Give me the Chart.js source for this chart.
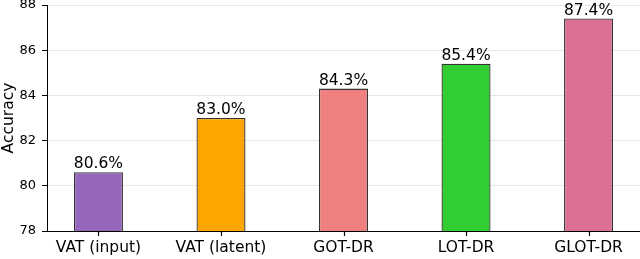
<!DOCTYPE html>
<html>
<head>
<meta charset="utf-8">
<script src="https://cdn.jsdelivr.net/npm/chart.js@4/dist/chart.umd.min.js"></script>
<style>
html,body{margin:0;padding:0;background:#fff;}
#wrap{width:640px;height:259px;}
</style>
</head>
<body>
<div id="wrap"><canvas id="c" width="640" height="259"></canvas></div>
<script>
const categories = ["VAT (input)", "VAT (latent)", "GOT-DR", "LOT-DR", "GLOT-DR"];
const accuracy = [80.6, 83.0, 84.3, 85.4, 87.4];
const barColors = ["#9467bd", "#ffa500", "#f08080", "#32cd32", "#db7093"];
const yTicks = [78, 80, 82, 84, 86, 88];

const FONT = "'DejaVu Sans', sans-serif";

const valueLabels = {
  id: 'valueLabels',
  afterDatasetsDraw(chart) {
    const ctx = chart.ctx;
    const meta = chart.getDatasetMeta(0);
    ctx.save();
    ctx.font = "15.5px " + FONT;
    ctx.fillStyle = "#000";
    ctx.textAlign = "center";
    ctx.textBaseline = "alphabetic";
    meta.data.forEach((el, i) => {
      ctx.fillText(accuracy[i].toFixed(1) + "%", el.x, el.y - 4);
    });
    ctx.restore();
  },
  afterDraw(chart) {
    const ctx = chart.ctx;
    const xs = chart.scales.x;
    const bottom = Math.round(xs.top);
    ctx.save();
    ctx.strokeStyle = "#000";
    ctx.lineWidth = 1.2;
    categories.forEach((c, i) => {
      const px = Math.round(xs.getPixelForValue(i)) + 0.5;
      ctx.beginPath();
      ctx.moveTo(px, bottom);
      ctx.lineTo(px, bottom + 5);
      ctx.stroke();
    });
    ctx.restore();
  }
};

new Chart(document.getElementById('c'), {
  type: 'bar',
  data: {
    datasets: [{
      data: categories.map((c, i) => ({x: i, y: accuracy[i]})),
      backgroundColor: barColors,
      borderColor: "#333333",
      borderWidth: 1.3,
      borderSkipped: false,
      barPercentage: 0.4,
      categoryPercentage: 1.0
    }]
  },
  options: {
    responsive: false,
    animation: false,
    devicePixelRatio: 1,
    layout: {padding: {left: 0, right: 0, top: 5, bottom: 0}},
    plugins: {legend: {display: false}, tooltip: {enabled: false}},
    scales: {
      x: {
        type: 'linear',
        offset: false,
        min: -0.42,
        max: 4.42,
        afterBuildTicks(scale) { scale.ticks = categories.map((c, i) => ({value: i})); },
        afterFit(scale) { scale.height = 28; scale.paddingLeft = 0; scale.paddingRight = 0; },
        ticks: {
          callback: (v) => categories[v],
          font: {family: FONT, size: 15.5},
          color: "#000",
          padding: 8,
          maxRotation: 0,
          autoSkip: false
        },
        grid: {display: false, drawTicks: false},
        border: {display: true, color: "#000", width: 1}
      },
      y: {
        min: 78,
        max: 88,
        afterBuildTicks(scale) { scale.ticks = yTicks.map(v => ({value: v})); },
        afterFit(scale) { scale.width = 47; scale.paddingTop = 0; scale.paddingBottom = 0; },
        ticks: {
          font: {family: FONT, size: 13},
          color: "#000",
          padding: 6
        },
        title: {
          display: true,
          text: "Accuracy",
          font: {family: FONT, size: 15.5},
          color: "#000",
          padding: 0
        },
        grid: {color: "#e6e6e6", lineWidth: 1, tickLength: 5, tickColor: "#000", tickWidth: 1},
        border: {color: "#000", width: 1}
      }
    }
  },
  plugins: [valueLabels]
});
</script>
</body>
</html>
